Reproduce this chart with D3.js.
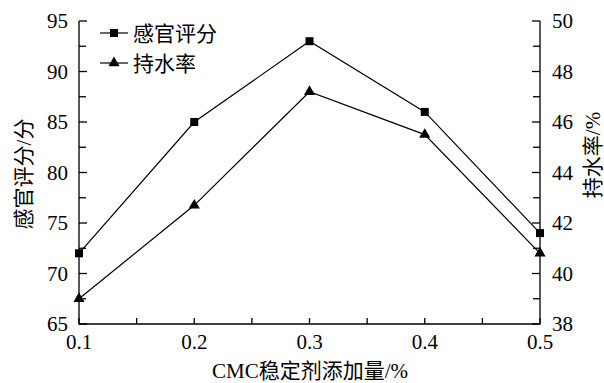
<!DOCTYPE html>
<html>
<head>
<meta charset="utf-8">
<script src="https://cdn.jsdelivr.net/npm/d3@7"></script>
<style>
  html, body { margin: 0; padding: 0; background: #fff; }
  svg text { font-family: "Liberation Serif", "Times New Roman", "Noto Sans CJK SC", serif; fill: #000; }
</style>
</head>
<body>
<svg id="chart" width="604" height="383"></svg>
<script>
// CMC stabilizer dosage (%)
const dosage = [0.1, 0.2, 0.3, 0.4, 0.5];
// Sensory score (points) — left axis
const sensoryScore = [72, 85, 93, 86, 74];
// Water holding capacity (%) — right axis
const waterHolding = [39.0, 42.7, 47.2, 45.5, 40.8];

const xTicks = [0.1, 0.2, 0.3, 0.4, 0.5];
const xMinorTicks = [0.15, 0.25, 0.35, 0.45];
const yLeftTicks = [65, 70, 75, 80, 85, 90, 95];
const yLeftMinor = [67.5, 72.5, 77.5, 82.5, 87.5, 92.5];
const yRightTicks = [38, 40, 42, 44, 46, 48, 50];
const yRightMinor = [39, 41, 43, 45, 47, 49];

const legendLabels = ["感官评分", "持水率"];
const xTitle = "CMC稳定剂添加量/%";
const yLeftTitle = "感官评分/分";
const yRightTitle = "持水率/%";

const svg = d3.select("#chart");
const L = 79, R = 540, T = 21, B = 324;

const x = d3.scaleLinear().domain([0.1, 0.5]).range([L, R]);
const yL = d3.scaleLinear().domain([65, 95]).range([B, T]);
const yR = d3.scaleLinear().domain([38, 50]).range([B, T]);

const tickFont = 21;
const titleFont = 21;

// axis frame: left, bottom, right
const axisG = svg.append("g").attr("stroke", "#000").attr("stroke-width", 1.3).attr("fill", "none");
axisG.append("path").attr("d", `M${L},${T}V${B}H${R}V${T}`);

// left axis ticks (inward)
yLeftTicks.forEach(v => axisG.append("line").attr("x1", L).attr("x2", L + 8).attr("y1", yL(v)).attr("y2", yL(v)));
yLeftMinor.forEach(v => axisG.append("line").attr("x1", L).attr("x2", L + 7).attr("y1", yL(v)).attr("y2", yL(v)));
// right axis ticks (inward)
yRightTicks.forEach(v => axisG.append("line").attr("x1", R).attr("x2", R - 8).attr("y1", yR(v)).attr("y2", yR(v)));
yRightMinor.forEach(v => axisG.append("line").attr("x1", R).attr("x2", R - 7).attr("y1", yR(v)).attr("y2", yR(v)));
// bottom ticks (inward)
xTicks.concat(xMinorTicks).forEach(v => axisG.append("line").attr("x1", x(v)).attr("x2", x(v)).attr("y1", B).attr("y2", B - 6));

// tick labels
svg.append("g").selectAll("text").data(yLeftTicks).join("text")
  .attr("x", L - 11).attr("y", d => yL(d)).attr("dy", "0.34em")
  .attr("text-anchor", "end").attr("font-size", tickFont).text(d => d);
svg.append("g").selectAll("text").data(yRightTicks).join("text")
  .attr("x", R + 12).attr("y", d => yR(d)).attr("dy", "0.34em")
  .attr("text-anchor", "start").attr("font-size", tickFont).text(d => d);
svg.append("g").selectAll("text").data(xTicks).join("text")
  .attr("x", d => x(d)).attr("y", B + 25)
  .attr("text-anchor", "middle").attr("font-size", tickFont).text(d => d3.format(".1f")(d));

// axis titles
svg.append("text").attr("x", 310).attr("y", 378).attr("text-anchor", "middle")
  .attr("font-size", titleFont).text(xTitle);
svg.append("text").attr("transform", `translate(31,174) rotate(-90)`).attr("text-anchor", "middle")
  .attr("font-size", titleFont).text(yLeftTitle);
svg.append("text").attr("transform", `translate(600,155) rotate(-90)`).attr("text-anchor", "middle")
  .attr("font-size", titleFont).text(yRightTitle);

// series lines
const lineL = d3.line().x((d, i) => x(dosage[i])).y(d => yL(d));
const lineR = d3.line().x((d, i) => x(dosage[i])).y(d => yR(d));
svg.append("path").attr("d", lineL(sensoryScore)).attr("fill", "none").attr("stroke", "#000").attr("stroke-width", 1.2);
svg.append("path").attr("d", lineR(waterHolding)).attr("fill", "none").attr("stroke", "#000").attr("stroke-width", 1.2);

const sq = d3.symbol().type(d3.symbolSquare).size(64);
const tri = d3.symbol().type(d3.symbolTriangle).size(54);

svg.append("g").selectAll("path").data(sensoryScore).join("path")
  .attr("d", sq).attr("transform", (d, i) => `translate(${x(dosage[i])},${yL(d)})`).attr("fill", "#000");
svg.append("g").selectAll("path").data(waterHolding).join("path")
  .attr("d", tri).attr("transform", (d, i) => `translate(${x(dosage[i])},${yR(d)})`).attr("fill", "#000");

// legend
const legend = svg.append("g");
const rows = [{ y: 33, sym: sq }, { y: 63, sym: tri }];
rows.forEach((r, i) => {
  legend.append("line").attr("x1", 100).attr("x2", 128).attr("y1", r.y).attr("y2", r.y)
    .attr("stroke", "#000").attr("stroke-width", 1.2);
  legend.append("path").attr("d", r.sym).attr("transform", `translate(114,${r.y})`).attr("fill", "#000");
  legend.append("text").attr("x", 133).attr("y", r.y).attr("dy", "0.36em")
    .attr("font-size", titleFont).text(legendLabels[i]);
});
</script>
</body>
</html>
